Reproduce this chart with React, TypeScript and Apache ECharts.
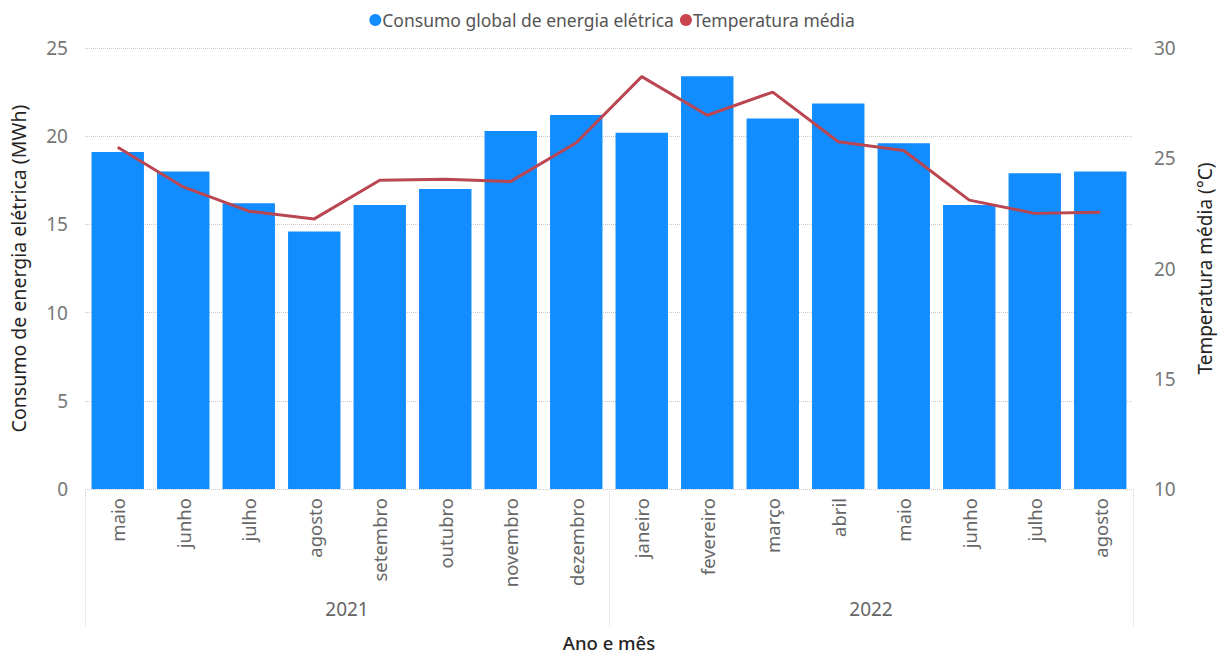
import React, { useEffect, useRef } from "react";
import * as echarts from "echarts";

const months = ["maio", "junho", "julho", "agosto", "setembro", "outubro", "novembro", "dezembro", "janeiro", "fevereiro", "março", "abril", "maio", "junho", "julho", "agosto"];
const years = ["2021", "2022"];
const consumo = [19.1, 18.0, 16.2, 14.6, 16.1, 17.0, 20.3, 21.2, 20.2, 23.4, 21.0, 21.85, 19.6, 16.1, 17.9, 18.0];
const temperatura = [25.5, 23.7, 22.6, 22.25, 24.0, 24.05, 23.95, 25.7, 28.7, 26.95, 28.0, 25.75, 25.35, 23.1, 22.5, 22.55];
const leftTicks = { min: 0, max: 25, interval: 5 };
const rightTicks = { min: 10, max: 30, interval: 5 };

const FONT = "'Noto Sans', 'Open Sans', sans-serif";

export default function App() {
  const ref = useRef<HTMLDivElement>(null);
  useEffect(() => {
    if (!ref.current) return;
    const chart = echarts.init(ref.current, undefined, { renderer: "svg" });
    chart.setOption({
      animation: false,
      textStyle: { fontFamily: FONT },
      legend: {
        top: 6,
        left: "center",
        itemGap: 6,
        itemWidth: 12,
        itemHeight: 12,
        textStyle: { fontSize: 17.5, color: "#555", fontFamily: FONT, padding: [0, 0, 0, -4] },
        data: [
          { name: "Consumo global de energia elétrica", icon: "circle" },
          { name: "Temperatura média", icon: "circle" },
        ],
      },
      grid: { left: 83, right: 91, top: 48, bottom: 165 },
      xAxis: [
        {
          type: "category",
          data: months,
          axisLine: { show: false },
          axisTick: { show: false },
          axisLabel: { rotate: 90, fontSize: 18.5, color: "#666", margin: 9, fontFamily: FONT },
        },
        {
          type: "category",
          data: years,
          position: "bottom",
          axisLine: { show: false },
          axisTick: { show: true, length: 138, lineStyle: { type: "dotted", color: "#d0d0d0" } },
          axisLabel: { fontSize: 19, color: "#666", margin: 110, fontFamily: FONT },
          name: "Ano e mês",
          nameLocation: "middle",
          nameGap: 144,
          nameTextStyle: { fontSize: 18.5, color: "#252423", fontWeight: 500, fontFamily: FONT },
        },
      ],
      yAxis: [
        {
          type: "value",
          ...leftTicks,
          name: "Consumo de energia elétrica (MWh)",
          nameLocation: "middle",
          nameGap: 57,
          nameTextStyle: { fontSize: 19.5, color: "#252423", fontFamily: FONT },
          axisLabel: { fontSize: 19, color: "#777", margin: 17, fontFamily: FONT },
          splitLine: { lineStyle: { type: "dotted", color: "#c8c8c8", width: 1 } },
          axisLine: { show: false },
          axisTick: { show: false },
        },
        {
          type: "value",
          ...rightTicks,
          name: "Temperatura média (°C)",
          nameLocation: "middle",
          nameGap: 62,
          nameRotate: 90,
          nameTextStyle: { fontSize: 19, color: "#252423", fontFamily: FONT },
          axisLabel: { fontSize: 19, color: "#777", margin: 21, fontFamily: FONT },
          splitLine: { show: false },
          axisLine: { show: false },
          axisTick: { show: false },
        },
      ],
      series: [
        {
          name: "Consumo global de energia elétrica",
          type: "bar",
          data: consumo,
          xAxisIndex: 0,
          yAxisIndex: 0,
          barCategoryGap: "20%",
          itemStyle: { color: "#118DFF" },
        },
        {
          name: "Temperatura média",
          type: "line",
          data: temperatura,
          xAxisIndex: 0,
          yAxisIndex: 1,
          symbol: "none",
          itemStyle: { color: "#C9444F" },
          lineStyle: { color: "#BA4652", width: 3 },
        },
      ],
    });
    return () => chart.dispose();
  }, []);
  return <div ref={ref} style={{ width: 1224, height: 657, position: "absolute", left: 0, top: 0 }} />;
}
